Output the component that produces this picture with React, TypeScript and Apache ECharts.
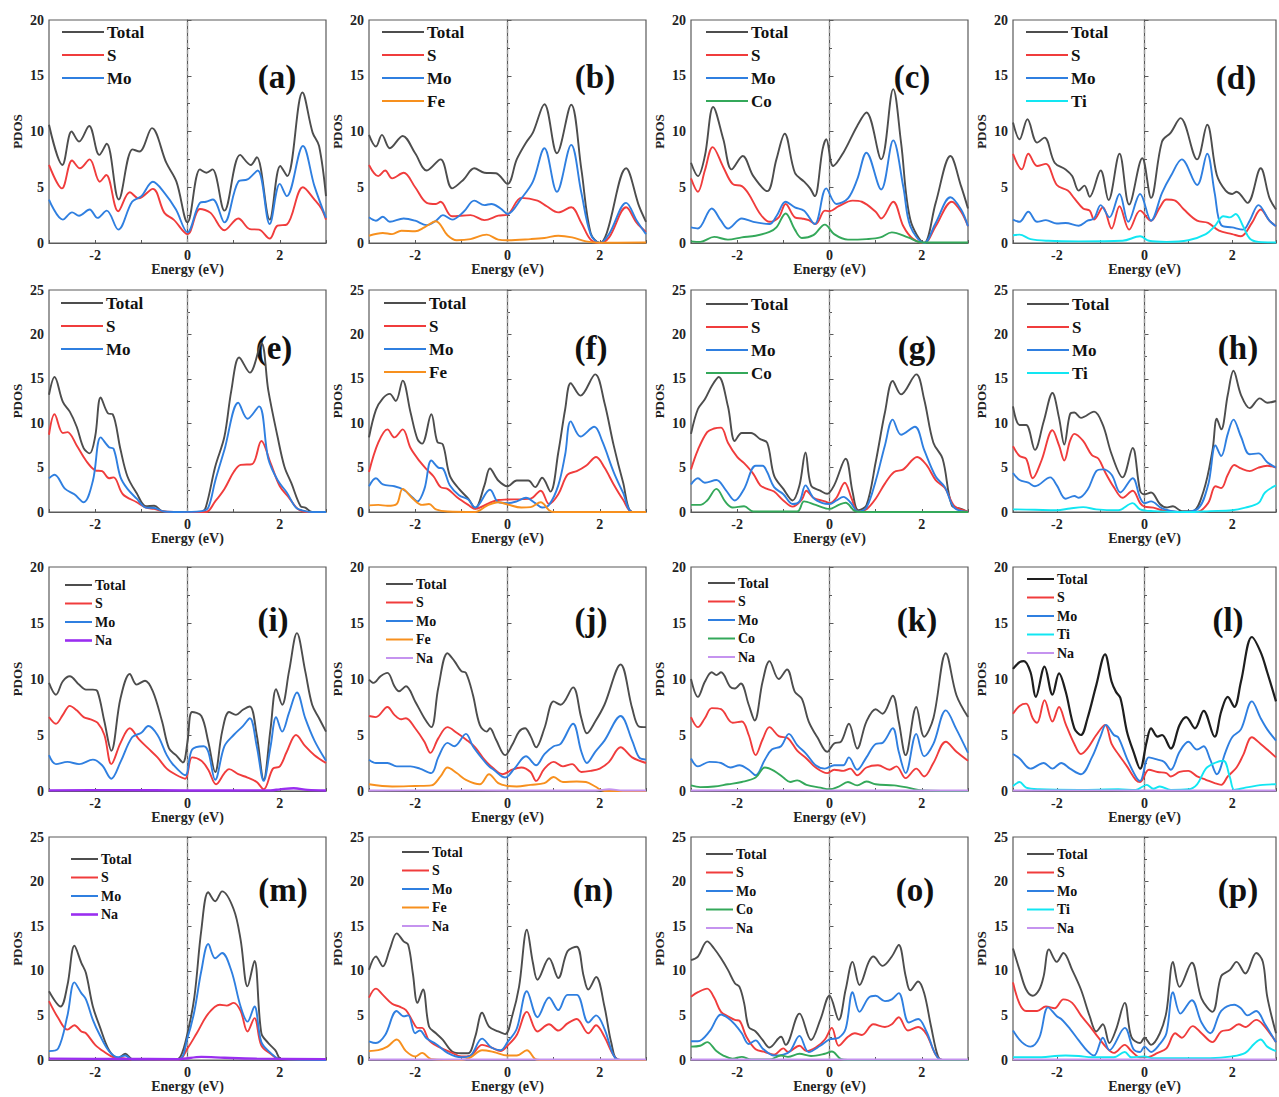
import React, { useEffect, useRef } from "react";
import * as echarts from "echarts";

type P = [number, number][];

// ---------- tick values ----------
const energyTicks = [-3, -2, -1, 0, 1, 2, 3];
const yMaxByRow = [20, 25, 20, 25];
const fermiLevel = 0;

// ---------- (a) MoS2 ----------
const aTot: P = [[-3,10.6],[-2.71,7.0],[-2.51,10.0],[-2.35,9.1],[-2.13,10.5],[-1.91,7.9],[-1.75,8.9],[-1.49,3.9],[-1.19,8.4],[-1.04,8.2],[-0.77,10.3],[-0.46,7.2],[-0.24,5.5],[0,1.85],[0.27,6.6],[0.41,6.3],[0.54,6.6],[0.8,2.9],[1.14,7.9],[1.37,7.0],[1.5,7.7],[1.78,2.1],[2.01,6.9],[2.16,6.0],[2.49,13.5],[2.71,9.9],[2.85,8.7],[3,4.2]];
const aS: P = [[-3,7.0],[-2.72,4.9],[-2.5,7.4],[-2.33,6.7],[-2.12,7.5],[-1.9,5.5],[-1.76,6.1],[-1.5,2.85],[-1.25,4.55],[-1.06,4.0],[-0.75,4.85],[-0.5,2.7],[-0.3,2.1],[0,0.8],[0.27,3.05],[0.5,2.7],[0.8,1.15],[1.1,2.2],[1.35,1.25],[1.55,1.2],[1.78,0.4],[1.95,1.55],[2.15,1.65],[2.5,5.0],[2.75,3.9],[2.9,3.1],[3,2.1]];
const aMo: P = [[-3,3.9],[-2.7,2.1],[-2.5,2.75],[-2.35,2.45],[-2.12,3.0],[-1.95,2.25],[-1.75,2.9],[-1.5,1.2],[-1.2,3.7],[-1.0,4.2],[-0.75,5.5],[-0.5,4.5],[-0.25,3.0],[0,0.95],[0.27,3.6],[0.4,3.7],[0.55,3.9],[0.8,1.85],[1.1,5.5],[1.3,5.7],[1.52,6.5],[1.78,1.7],[2.0,5.3],[2.15,4.2],[2.5,8.7],[2.75,5.1],[3,2.25]];

// ---------- (b) Fe-MoS2 ----------
const bTot: P = [[-3,9.7],[-2.85,8.65],[-2.72,9.7],[-2.55,8.5],[-2.27,9.6],[-2.0,8.05],[-1.75,6.5],[-1.45,7.5],[-1.2,4.9],[-0.95,5.7],[-0.72,6.7],[-0.5,6.3],[-0.25,6.25],[0,5.3],[0.2,7.5],[0.4,9.0],[0.55,9.9],[0.8,12.45],[1.07,8.05],[1.38,12.4],[1.6,6.6],[1.8,0.9],[2.0,0],[2.15,0.9],[2.57,6.7],[2.85,3.3],[3,1.9]];
const bS: P = [[-3,7.0],[-2.8,6.0],[-2.65,6.5],[-2.5,5.8],[-2.25,6.3],[-2.0,5.0],[-1.75,3.6],[-1.55,3.5],[-1.45,3.7],[-1.2,2.4],[-0.8,2.5],[-0.5,2.05],[-0.2,2.45],[0,2.55],[0.3,4.05],[0.65,3.8],[0.85,3.3],[1.1,2.75],[1.38,3.2],[1.6,1.8],[1.8,0.3],[2.0,0],[2.2,0.5],[2.57,3.2],[2.8,1.8],[3,1.0]];
const bMo: P = [[-3,2.3],[-2.85,2.0],[-2.7,2.35],[-2.55,1.9],[-2.25,2.2],[-2.0,2.0],[-1.75,1.6],[-1.55,2.0],[-1.4,2.5],[-1.2,2.1],[-0.95,2.8],[-0.72,3.8],[-0.5,3.4],[-0.35,3.5],[-0.15,3.1],[0,2.6],[0.3,4.0],[0.55,5.5],[0.8,8.5],[1.07,4.6],[1.38,8.8],[1.6,4.5],[1.8,0.8],[2.0,0],[2.2,0.8],[2.57,3.6],[2.8,2.0],[3,0.8]];
const bFe: P = [[-3,0.65],[-2.7,0.9],[-2.5,0.8],[-2.3,1.1],[-2.0,1.05],[-1.8,1.4],[-1.55,1.95],[-1.3,0.7],[-1.1,0.25],[-0.8,0.35],[-0.45,0.75],[-0.2,0.3],[0,0.25],[0.5,0.35],[0.8,0.45],[1.1,0.65],[1.4,0.5],[1.7,0.15],[2.0,0.02],[3,0.05]];

// ---------- (c) Co-MoS2 ----------
const cTot: P = [[-3,7.2],[-2.85,6.0],[-2.7,7.8],[-2.52,12.2],[-2.3,9.3],[-2.12,6.6],[-1.88,7.8],[-1.65,6.0],[-1.35,4.65],[-1.15,7.5],[-0.97,9.8],[-0.75,6.3],[-0.55,5.5],[-0.42,4.9],[-0.32,4.2],[-0.15,8.4],[-0.07,9.3],[0.08,6.9],[0.3,8.1],[0.6,10.5],[0.8,11.7],[1.12,7.5],[1.38,13.8],[1.55,9.0],[1.75,2.1],[2.05,0],[2.3,3.6],[2.62,7.8],[2.85,5.1],[3,3.1]];
const cS: P = [[-3,5.8],[-2.85,4.6],[-2.7,6.5],[-2.53,8.6],[-2.3,6.8],[-2.1,5.3],[-1.9,5.1],[-1.75,4.4],[-1.5,2.6],[-1.3,1.9],[-1.1,2.3],[-0.95,3.5],[-0.75,2.3],[-0.6,2.2],[-0.45,2.05],[-0.3,1.7],[-0.1,2.9],[0,2.85],[0.2,3.3],[0.5,3.8],[0.7,3.7],[1.0,2.8],[1.12,2.2],[1.38,3.7],[1.6,1.5],[1.8,0.4],[2.05,0],[2.3,1.5],[2.65,3.7],[2.85,2.8],[3,1.5]];
const cMo: P = [[-3,1.4],[-2.85,1.3],[-2.55,3.1],[-2.35,2.0],[-2.2,1.3],[-1.9,2.2],[-1.65,1.9],[-1.3,1.7],[-1.15,2.4],[-0.95,3.7],[-0.75,3.2],[-0.55,2.9],[-0.32,1.7],[-0.07,4.9],[0.15,3.5],[0.4,4.0],[0.6,5.7],[0.8,8.1],[1.12,4.8],[1.38,9.2],[1.6,5.0],[1.75,1.5],[2.05,0],[2.3,1.8],[2.62,4.1],[2.85,3.0],[3,1.5]];
const cCo: P = [[-3,0.15],[-2.8,0.1],[-2.5,0.55],[-2.2,0.3],[-1.9,0.5],[-1.6,0.65],[-1.3,1.0],[-1.15,1.4],[-0.95,2.65],[-0.75,1.2],[-0.6,0.45],[-0.35,0.7],[-0.1,1.65],[0.1,0.8],[0.4,0.3],[0.8,0.35],[1.1,0.5],[1.35,0.95],[1.7,0.5],[2.0,0.05],[3,0.05]];

// ---------- (d) Ti-MoS2 ----------
const dTot: P = [[-3,10.8],[-2.85,9.3],[-2.67,11.1],[-2.45,9.0],[-2.28,9.45],[-2.05,7.2],[-1.8,6.6],[-1.65,6.0],[-1.5,4.7],[-1.37,5.15],[-1.25,4.15],[-1.0,6.5],[-0.82,3.85],[-0.57,8.0],[-0.35,3.45],[-0.05,7.6],[0.15,4.05],[0.4,9.1],[0.6,9.9],[0.82,11.2],[1.2,7.5],[1.43,10.6],[1.65,6.1],[1.85,4.7],[2.0,4.4],[2.1,4.6],[2.35,3.6],[2.65,6.7],[2.85,4.05],[3,3.0]];
const dS: P = [[-3,8.0],[-2.8,6.6],[-2.65,8.0],[-2.45,6.9],[-2.25,7.1],[-2.0,5.2],[-1.75,4.7],[-1.6,4.0],[-1.4,3.1],[-1.25,2.9],[-1.15,2.1],[-0.95,3.2],[-0.75,1.3],[-0.57,3.3],[-0.35,1.2],[-0.1,2.9],[0.15,2.0],[0.35,3.2],[0.5,3.9],[0.7,3.8],[0.9,3.0],[1.2,2.0],[1.45,1.8],[1.7,1.1],[2.0,0.8],[2.2,0.6],[2.45,1.8],[2.65,3.0],[2.85,2.0],[3,1.5]];
const dMo: P = [[-3,2.1],[-2.85,1.9],[-2.65,2.8],[-2.45,1.9],[-2.25,2.05],[-2.0,1.75],[-1.8,1.8],[-1.5,1.55],[-1.3,2.0],[-1.15,2.2],[-1.0,3.4],[-0.8,2.3],[-0.57,4.4],[-0.37,1.9],[-0.1,4.4],[0.15,2.0],[0.4,4.5],[0.6,6.0],[0.85,7.5],[1.2,5.2],[1.43,8.0],[1.6,4.5],[1.75,1.6],[2.0,1.4],[2.25,1.2],[2.4,2.0],[2.6,3.4],[2.85,2.0],[3,1.5]];
const dTi: P = [[-3,0.7],[-2.85,0.75],[-2.6,0.35],[-2.2,0.2],[-1.5,0.15],[-0.5,0.2],[-0.1,0.6],[0.1,0.2],[0.5,0.1],[1.0,0.25],[1.4,0.8],[1.6,1.5],[1.8,2.4],[1.95,2.3],[2.08,2.6],[2.25,1.5],[2.4,0.4],[2.6,0.1],[3,0.05]];

// ---------- (e) ----------
const eTot: P = [[-3,13.2],[-2.88,15.2],[-2.7,12.4],[-2.55,11.3],[-2.4,9.6],[-2.25,7.2],[-2.12,6.6],[-2.0,8.5],[-1.88,12.9],[-1.72,11.1],[-1.62,11.0],[-1.45,7.0],[-1.3,4.0],[-1.1,2.1],[-0.9,0.65],[-0.72,0.7],[-0.55,0.1],[-0.3,0],[0.3,0],[0.4,0.6],[0.6,5.1],[0.8,8.5],[0.95,13.7],[1.12,17.4],[1.35,15.7],[1.6,19.0],[1.75,13.7],[1.95,8.5],[2.1,5.1],[2.25,3.25],[2.45,0.65],[2.55,0.5],[2.7,0],[3,0]];
const eS: P = [[-3,8.7],[-2.88,11.0],[-2.7,8.9],[-2.6,9.0],[-2.4,7.5],[-2.2,5.8],[-2.0,4.7],[-1.85,4.6],[-1.7,3.8],[-1.6,3.9],[-1.4,2.0],[-1.1,1.1],[-0.9,0.5],[-0.72,0.35],[-0.5,0.05],[-0.2,0],[0.4,0],[0.6,1.2],[0.8,2.6],[1.0,4.5],[1.15,5.3],[1.4,5.4],[1.6,8.0],[1.8,5.5],[2.0,2.9],[2.2,1.6],[2.4,0.3],[2.6,0],[3,0]];
const eMo: P = [[-3,3.8],[-2.88,4.2],[-2.65,2.6],[-2.45,2.0],[-2.25,1.1],[-2.05,3.5],[-1.88,8.4],[-1.7,7.3],[-1.6,7.1],[-1.45,3.9],[-1.3,2.6],[-1.1,1.5],[-0.9,0.5],[-0.72,0.45],[-0.5,0.05],[-0.2,0],[0.3,0.1],[0.45,0.5],[0.6,3.5],[0.8,7.0],[1.1,12.3],[1.3,10.5],[1.55,11.9],[1.75,6.0],[1.95,3.6],[2.15,2.2],[2.35,0.5],[2.55,0.1],[2.7,0],[3,0]];

// ---------- (f) ----------
const fTot: P = [[-3,8.4],[-2.85,11.5],[-2.7,12.8],[-2.55,13.3],[-2.42,12.5],[-2.27,14.8],[-2.1,11.2],[-1.95,8.2],[-1.85,7.7],[-1.65,11.0],[-1.52,7.9],[-1.4,7.6],[-1.25,4.1],[-1.05,2.6],[-0.85,1.5],[-0.7,0.4],[-0.5,3.0],[-0.38,4.9],[-0.2,3.55],[0,2.9],[0.2,3.55],[0.45,3.55],[0.6,2.8],[0.75,3.85],[0.93,2.3],[1.1,6.7],[1.25,11.6],[1.37,14.5],[1.58,13.1],[1.9,15.5],[2.1,12.3],[2.3,7.5],[2.5,3.4],[2.7,0],[3,0]];
const fS: P = [[-3,4.5],[-2.8,7.8],[-2.6,9.3],[-2.45,8.4],[-2.27,9.3],[-2.1,7.2],[-1.9,5.7],[-1.75,4.8],[-1.6,4.0],[-1.45,2.8],[-1.3,2.6],[-1.1,1.7],[-0.85,0.8],[-0.7,0.35],[-0.4,1.0],[-0.2,1.35],[0,1.4],[0.3,1.45],[0.5,1.5],[0.72,2.4],[0.9,0.9],[1.1,2.0],[1.3,4.2],[1.5,4.6],[1.7,5.2],[1.92,6.2],[2.1,5.0],[2.3,3.1],[2.5,1.4],[2.7,0],[3,0]];
const fMo: P = [[-3,2.9],[-2.85,3.8],[-2.7,3.1],[-2.45,2.9],[-2.25,2.5],[-2.05,1.6],[-1.95,1.2],[-1.8,2.6],[-1.65,5.8],[-1.5,5.0],[-1.4,4.9],[-1.25,3.0],[-1.05,1.9],[-0.85,1.4],[-0.7,0.5],[-0.38,2.5],[-0.2,1.1],[0,1.0],[0.2,1.2],[0.4,1.6],[0.6,1.0],[0.75,0.5],[0.9,0.8],[1.1,3.0],[1.25,6.5],[1.37,10.2],[1.58,8.5],[1.88,9.6],[2.05,8.0],[2.3,4.5],[2.5,2.2],[2.7,0],[3,0]];
const fFe: P = [[-3,0.75],[-2.8,0.8],[-2.6,0.7],[-2.4,0.9],[-2.27,2.6],[-2.05,1.5],[-1.85,0.8],[-1.7,0.9],[-1.55,0.3],[-1.3,0.05],[-0.7,0],[-0.45,0.7],[-0.2,1.1],[0,0.85],[0.3,0.5],[0.5,0.55],[0.72,1.1],[0.9,0.2],[1.0,0],[3,0]];

// ---------- (g) ----------
const gTot: P = [[-3,8.8],[-2.85,11.6],[-2.7,12.7],[-2.55,14.2],[-2.4,15.2],[-2.2,11.9],[-2.05,8.0],[-1.9,8.9],[-1.7,8.9],[-1.5,8.2],[-1.35,7.8],[-1.2,4.1],[-1.0,2.6],[-0.8,1.3],[-0.65,3.0],[-0.52,6.7],[-0.4,3.0],[-0.2,2.4],[-0.05,2.05],[0.1,3.0],[0.35,6.0],[0.5,2.25],[0.62,0.2],[0.8,0.75],[1.0,5.6],[1.2,11.2],[1.37,14.75],[1.55,13.25],[1.88,15.5],[2.05,12.7],[2.25,7.8],[2.45,6.0],[2.65,0.75],[2.85,0.35],[3,0]];
const gS: P = [[-3,4.8],[-2.85,7.0],[-2.65,9.0],[-2.5,9.4],[-2.35,9.5],[-2.2,7.8],[-2.0,6.2],[-1.85,5.5],[-1.65,4.3],[-1.5,3.0],[-1.35,2.6],[-1.2,2.3],[-1.0,1.3],[-0.8,0.6],[-0.6,1.4],[-0.5,2.4],[-0.35,1.6],[-0.1,1.2],[0,1.0],[0.15,1.6],[0.33,3.3],[0.48,1.5],[0.62,0],[0.8,0.3],[1.0,1.5],[1.2,3.2],[1.4,4.5],[1.6,4.8],[1.9,6.2],[2.1,5.3],[2.3,3.6],[2.5,2.7],[2.7,0.7],[2.9,0.2],[3,0]];
const gMo: P = [[-3,3.1],[-2.85,3.8],[-2.7,3.3],[-2.45,3.6],[-2.25,2.5],[-2.05,1.3],[-1.85,2.6],[-1.6,5.2],[-1.45,5.2],[-1.35,4.5],[-1.2,2.8],[-1.0,2.0],[-0.8,0.9],[-0.65,1.2],[-0.52,3.0],[-0.35,1.6],[-0.15,1.0],[0,0.9],[0.15,1.3],[0.3,1.7],[0.45,1.1],[0.62,0.05],[0.8,0.5],[1.0,3.5],[1.2,7.5],[1.37,10.4],[1.55,8.7],[1.85,9.6],[2.05,7.0],[2.3,4.0],[2.5,2.8],[2.7,0.5],[3,0]];
const gCo: P = [[-3,0.8],[-2.8,0.8],[-2.65,1.3],[-2.45,2.6],[-2.25,1.1],[-2.1,0.5],[-1.85,0.65],[-1.65,0.05],[-0.7,0.05],[-0.55,1.2],[-0.3,0.8],[0,0.35],[0.2,0.8],[0.35,1.05],[0.55,0.1],[0.7,0],[3,0]];

// ---------- (h) ----------
const hTot: P = [[-3,11.9],[-2.85,9.8],[-2.7,9.8],[-2.5,7.0],[-2.3,10.2],[-2.1,13.4],[-1.95,10.6],[-1.83,7.6],[-1.7,11.0],[-1.6,11.2],[-1.45,10.6],[-1.15,11.3],[-0.95,9.8],[-0.75,6.5],[-0.5,3.9],[-0.27,7.2],[-0.1,2.4],[0,2.0],[0.15,2.2],[0.35,0.9],[0.5,0.5],[0.65,0.65],[0.85,0.1],[1.1,0.1],[1.35,2.4],[1.55,6.9],[1.65,10.5],[1.75,9.3],[1.9,13.2],[2.03,15.9],[2.2,13.2],[2.4,11.7],[2.63,12.8],[2.8,12.3],[3,12.5]];
const hS: P = [[-3,7.4],[-2.85,6.3],[-2.7,6.0],[-2.55,3.8],[-2.35,5.8],[-2.1,9.2],[-1.95,7.5],[-1.83,5.8],[-1.7,8.0],[-1.6,8.8],[-1.4,8.0],[-1.2,6.4],[-1.05,6.0],[-0.9,4.5],[-0.7,2.8],[-0.5,1.6],[-0.27,2.4],[-0.1,1.0],[0,0.6],[0.2,0.5],[0.4,0.2],[0.8,0],[1.2,0],[1.45,1.0],[1.62,2.9],[1.75,2.7],[1.9,4.2],[2.05,5.3],[2.2,4.9],[2.4,4.6],[2.6,5.0],[2.8,5.2],[3,5.0]];
const hMo: P = [[-3,4.4],[-2.85,3.6],[-2.65,3.3],[-2.5,2.9],[-2.15,3.9],[-2.0,3.0],[-1.8,1.5],[-1.6,1.8],[-1.5,1.6],[-1.3,2.5],[-1.1,4.6],[-0.95,4.8],[-0.75,4.2],[-0.55,2.2],[-0.27,3.8],[-0.1,1.6],[0,1.0],[0.15,1.2],[0.4,0.4],[0.8,0],[1.2,0.3],[1.45,3.0],[1.62,7.5],[1.75,6.3],[1.9,8.8],[2.03,10.4],[2.2,8.5],[2.4,6.5],[2.6,6.6],[2.8,5.6],[3,5.0]];
const hTi: P = [[-3,0.3],[-2.5,0.25],[-2.0,0.2],[-1.7,0.4],[-1.4,0.55],[-1.1,0.3],[-0.6,0.2],[-0.27,1.0],[-0.1,0.3],[0.2,0.1],[1.0,0],[1.5,0.1],[2.0,0.2],[2.3,0.5],[2.6,1.0],[2.75,2.2],[3,3.0]];

// ---------- (i) Na-MoS2 ----------
const iTot: P = [[-3,9.65],[-2.85,8.6],[-2.7,9.8],[-2.55,10.25],[-2.35,9.5],[-2.2,9.05],[-2.05,9.05],[-1.95,8.9],[-1.8,6.2],[-1.65,3.6],[-1.45,8.3],[-1.25,10.45],[-1.1,9.5],[-0.92,9.85],[-0.75,8.9],[-0.55,6.2],[-0.4,3.8],[-0.25,3.2],[-0.1,2.55],[0,4.4],[0.1,7.05],[0.3,6.7],[0.45,4.4],[0.6,1.7],[0.75,5.3],[0.9,7.05],[1.05,6.8],[1.2,7.25],[1.35,7.55],[1.5,5.0],[1.65,1.0],[1.8,5.6],[1.92,9.1],[2.05,7.7],[2.2,10.7],[2.37,14.1],[2.55,10.7],[2.7,7.7],[2.85,6.5],[3,5.3]];
const iS: P = [[-3,6.6],[-2.85,6.0],[-2.7,6.8],[-2.55,7.6],[-2.4,7.2],[-2.25,6.6],[-2.1,6.4],[-1.95,6.1],[-1.8,5.0],[-1.65,2.4],[-1.45,4.3],[-1.25,5.6],[-1.05,4.6],[-0.85,3.8],[-0.65,3.0],[-0.45,2.0],[-0.25,1.45],[-0.05,1.1],[0.1,3.0],[0.3,2.7],[0.45,1.9],[0.62,0.6],[0.8,1.6],[0.9,1.95],[1.1,1.5],[1.3,1.2],[1.5,0.8],[1.65,0.15],[1.85,2.0],[2.0,2.2],[2.15,3.5],[2.35,5.0],[2.55,4.0],[2.75,3.2],[3,2.5]];
const iMo: P = [[-3,3.2],[-2.85,2.4],[-2.6,2.6],[-2.35,2.4],[-2.05,2.8],[-1.85,2.3],[-1.65,1.1],[-1.45,2.6],[-1.2,4.8],[-1.0,5.2],[-0.85,5.8],[-0.65,5.0],[-0.45,3.2],[-0.3,2.3],[-0.05,1.4],[0.1,3.7],[0.35,4.0],[0.45,3.5],[0.6,1.0],[0.8,4.0],[1.0,5.0],[1.2,5.8],[1.35,6.5],[1.5,4.0],[1.65,0.9],[1.8,4.0],[1.92,6.6],[2.05,5.3],[2.2,7.0],[2.37,8.8],[2.55,6.5],[2.75,4.5],[3,2.7]];
const iNa: P = [[-3,0.06],[-1.5,0.08],[0,0.05],[1.8,0.06],[2.0,0.15],[2.3,0.25],[2.6,0.1],[3,0.05]];

// ---------- (j) ----------
const jTot: P = [[-3,9.95],[-2.9,9.65],[-2.75,10.25],[-2.6,10.55],[-2.45,9.35],[-2.35,8.9],[-2.2,9.35],[-2.0,8.0],[-1.8,6.5],[-1.65,5.7],[-1.5,9.2],[-1.3,12.3],[-1.15,11.6],[-1.0,10.7],[-0.9,10.55],[-0.75,8.6],[-0.6,5.9],[-0.45,5.3],[-0.38,5.6],[-0.25,4.6],[-0.05,3.2],[0.1,4.1],[0.25,5.3],[0.38,5.6],[0.5,4.9],[0.62,3.9],[0.8,5.6],[1.0,8.0],[1.15,7.7],[1.42,9.25],[1.6,6.5],[1.72,5.15],[1.9,6.2],[2.1,7.7],[2.45,11.3],[2.7,7.4],[2.85,5.75],[3,5.7]];
const jS: P = [[-3,6.7],[-2.85,6.6],[-2.6,7.5],[-2.45,6.8],[-2.3,6.4],[-2.2,6.5],[-2.0,5.6],[-1.8,4.4],[-1.67,3.4],[-1.5,4.7],[-1.3,5.7],[-1.1,5.2],[-0.9,4.6],[-0.7,3.9],[-0.5,2.8],[-0.3,2.0],[-0.1,1.5],[0.1,1.9],[0.3,2.1],[0.5,1.7],[0.62,0.9],[0.8,2.0],[1.0,2.6],[1.2,2.2],[1.4,2.4],[1.6,1.7],[1.8,1.8],[2.0,2.0],[2.2,2.6],[2.45,3.9],[2.7,3.0],[3,2.5]];
const jMo: P = [[-3,2.8],[-2.85,2.5],[-2.6,2.5],[-2.4,2.2],[-2.1,2.2],[-1.9,2.0],[-1.65,1.6],[-1.5,3.0],[-1.3,4.3],[-1.15,4.0],[-0.9,5.1],[-0.75,4.0],[-0.55,2.9],[-0.4,2.2],[-0.3,1.9],[-0.05,1.2],[0.15,2.0],[0.4,3.1],[0.62,2.3],[0.8,3.3],[1.0,4.0],[1.15,4.2],[1.42,6.0],[1.6,3.5],[1.72,2.5],[1.9,3.5],[2.1,4.5],[2.45,6.7],[2.7,4.5],[2.85,3.0],[3,2.8]];
const jFe: P = [[-3,0.6],[-2.5,0.4],[-2.0,0.45],[-1.65,0.5],[-1.45,1.3],[-1.3,2.1],[-1.1,1.6],[-0.9,1.0],[-0.6,0.6],[-0.4,1.5],[-0.2,0.7],[0,0.45],[0.2,0.4],[0.5,0.55],[0.8,0.7],[1.0,1.25],[1.2,0.8],[1.5,0.85],[1.7,0.8],[1.9,0.4],[2.1,0],[3,0]];
const jNa: P = [[-3,0.05],[-1.5,0.06],[0,0.05],[1.9,0.05],[2.2,0.15],[2.5,0.05],[3,0.05]];

// ---------- (k) ----------
const kTot: P = [[-3,10.0],[-2.85,8.4],[-2.7,9.75],[-2.55,10.6],[-2.45,10.35],[-2.35,10.6],[-2.15,9.3],[-2.05,9.15],[-1.92,9.6],[-1.75,7.7],[-1.62,6.3],[-1.45,9.75],[-1.3,11.6],[-1.1,10.0],[-0.92,10.85],[-0.75,8.85],[-0.6,8.25],[-0.45,6.2],[-0.25,4.7],[-0.05,3.5],[0.1,4.25],[0.25,4.4],[0.42,6.0],[0.6,3.8],[0.8,6.2],[1.0,7.3],[1.15,6.9],[1.37,8.5],[1.5,6.2],[1.65,3.2],[1.88,7.5],[2.05,4.85],[2.25,6.5],[2.52,12.3],[2.75,8.55],[3,6.6]];
const kS: P = [[-3,6.6],[-2.85,5.7],[-2.7,6.5],[-2.55,7.4],[-2.35,7.3],[-2.1,6.1],[-1.9,6.2],[-1.75,5.0],[-1.6,3.2],[-1.45,4.6],[-1.3,5.7],[-1.1,4.9],[-0.9,4.7],[-0.7,3.6],[-0.5,2.9],[-0.3,2.1],[-0.05,1.6],[0.1,1.9],[0.3,1.8],[0.45,2.0],[0.6,1.4],[0.8,2.1],[1.05,2.3],[1.3,1.9],[1.45,2.2],[1.65,1.15],[1.88,2.0],[2.05,1.3],[2.25,2.5],[2.52,4.4],[2.75,3.5],[3,2.7]];
const kMo: P = [[-3,2.9],[-2.85,2.2],[-2.6,2.6],[-2.35,2.5],[-2.15,2.1],[-1.95,2.3],[-1.75,1.9],[-1.6,1.4],[-1.4,2.8],[-1.25,3.7],[-1.05,4.0],[-0.88,5.1],[-0.7,4.1],[-0.5,3.3],[-0.3,2.3],[-0.1,2.0],[0.1,2.3],[0.3,2.3],[0.42,3.0],[0.6,1.9],[0.8,3.0],[1.0,4.2],[1.15,4.3],[1.37,5.6],[1.5,3.5],[1.65,1.6],[1.88,5.1],[2.05,3.1],[2.25,4.2],[2.52,7.2],[2.75,5.5],[3,3.4]];
const kCo: P = [[-3,0.5],[-2.8,0.35],[-2.5,0.4],[-2.2,0.6],[-1.9,0.8],[-1.6,1.2],[-1.4,2.1],[-1.2,1.8],[-1.0,1.2],[-0.85,0.8],[-0.7,0.95],[-0.5,0.55],[-0.2,0.3],[0,0.15],[0.2,0.4],[0.4,0.8],[0.6,0.5],[0.8,0.85],[1.0,0.6],[1.4,0.5],[1.7,0.3],[2.0,0.05],[3,0]];
const kNa: P = [[-3,0.05],[-1.5,0.07],[0,0.05],[1.5,0.05],[3,0.05]];

// ---------- (l) ----------
const lTot: P = [[-3,10.9],[-2.85,11.5],[-2.75,11.6],[-2.6,10.6],[-2.48,8.4],[-2.28,11.1],[-2.1,8.6],[-1.95,10.5],[-1.8,8.9],[-1.6,5.6],[-1.45,5.0],[-1.3,6.5],[-1.1,9.45],[-0.9,12.2],[-0.75,9.75],[-0.65,8.85],[-0.55,8.3],[-0.4,5.3],[-0.25,3.5],[-0.1,2.0],[0.05,4.4],[0.15,5.6],[0.3,4.85],[0.4,5.0],[0.6,3.8],[0.8,5.9],[0.95,6.6],[1.15,5.6],[1.35,7.15],[1.6,4.85],[1.75,7.1],[1.9,8.4],[2.05,7.5],[2.2,9.75],[2.45,13.75],[2.65,12.4],[2.8,10.6],[3,8.0]];
const lS: P = [[-3,6.9],[-2.85,7.6],[-2.7,7.8],[-2.55,6.5],[-2.45,6.1],[-2.28,8.1],[-2.1,6.2],[-1.95,7.5],[-1.8,6.0],[-1.6,4.2],[-1.45,3.3],[-1.3,3.8],[-1.1,5.0],[-0.9,5.9],[-0.75,4.2],[-0.6,3.3],[-0.4,2.2],[-0.2,1.0],[-0.1,0.8],[0.1,1.9],[0.3,1.7],[0.5,1.6],[0.6,1.3],[0.8,1.7],[1.0,1.8],[1.2,1.3],[1.4,1.0],[1.6,0.7],[1.75,0.55],[1.9,1.3],[2.1,2.1],[2.25,3.2],[2.45,4.8],[2.65,4.2],[2.8,3.7],[3,3.0]];
const lMo: P = [[-3,3.3],[-2.85,2.9],[-2.6,2.0],[-2.3,2.5],[-2.1,2.0],[-1.9,2.5],[-1.7,2.0],[-1.45,1.5],[-1.2,3.0],[-1.0,4.9],[-0.88,5.9],[-0.7,5.0],[-0.6,4.8],[-0.4,2.9],[-0.2,1.3],[-0.1,0.9],[0.1,3.0],[0.3,2.8],[0.45,2.6],[0.6,1.9],[0.8,3.5],[1.0,4.4],[1.2,3.7],[1.35,4.0],[1.5,2.8],[1.65,1.5],[1.85,3.5],[2.0,4.8],[2.2,5.5],[2.45,8.0],[2.65,6.5],[2.8,5.5],[3,4.5]];
const lTi: P = [[-3,0.45],[-2.85,0.8],[-2.7,0.3],[-2.4,0.15],[-1.5,0.1],[-0.6,0.15],[-0.2,0.1],[0.05,0.55],[0.2,0.2],[0.35,0.4],[0.6,0.1],[1.0,0.15],[1.2,0.6],[1.4,2.0],[1.6,2.5],[1.8,2.7],[1.95,1.2],[2.05,0.1],[2.3,0.3],[2.7,0.55],[3,0.6]];
const lNa: P = [[-3,0.05],[-1.5,0.06],[0,0.05],[1.5,0.05],[3,0.05]];

// ---------- (m) ----------
const mTot: P = [[-3,7.7],[-2.75,6.0],[-2.6,8.4],[-2.45,12.8],[-2.3,10.9],[-2.2,9.75],[-2.05,6.0],[-1.9,3.75],[-1.7,1.1],[-1.5,0.2],[-1.35,0.7],[-1.2,0.1],[-1.0,0],[-0.3,0],[-0.15,0.4],[0,3.0],[0.15,7.1],[0.3,14.6],[0.45,18.8],[0.6,17.8],[0.75,18.9],[1.0,16.9],[1.15,13.5],[1.3,8.25],[1.45,11.1],[1.6,3.0],[1.75,1.9],[1.9,1.1],[2.05,0],[3,0]];
const mS: P = [[-3,6.6],[-2.8,4.7],[-2.6,3.4],[-2.45,3.9],[-2.3,3.2],[-2.2,3.0],[-2.0,1.7],[-1.8,0.9],[-1.6,0.3],[-1.4,0.2],[-1.2,0.05],[-0.2,0],[0,1.3],[0.2,3.0],[0.45,5.2],[0.7,6.2],[0.85,6.1],[1.0,6.4],[1.15,5.5],[1.3,3.2],[1.45,4.7],[1.6,1.6],[1.8,0.7],[2.0,0.1],[3,0]];
const mMo: P = [[-3,1.0],[-2.8,1.3],[-2.6,5.0],[-2.45,8.7],[-2.3,7.5],[-2.2,6.8],[-2.05,4.5],[-1.9,2.8],[-1.7,1.0],[-1.5,0.3],[-1.35,0.5],[-1.2,0.05],[-0.2,0.05],[0,2.5],[0.15,5.5],[0.3,10.0],[0.45,13.0],[0.6,11.4],[0.75,12.0],[0.95,10.0],[1.15,6.0],[1.3,4.3],[1.45,6.0],[1.6,2.0],[1.8,0.8],[2.0,0.1],[3,0]];
const mNa: P = [[-3,0.15],[-1.5,0.12],[-0.2,0.1],[0.3,0.35],[0.8,0.25],[1.5,0.15],[3,0.1]];

// ---------- (n) ----------
const nTot: P = [[-3,10.1],[-2.85,11.6],[-2.7,10.5],[-2.55,12.4],[-2.4,14.2],[-2.25,13.3],[-2.15,12.9],[-2.05,9.7],[-1.95,6.4],[-1.83,7.9],[-1.7,3.75],[-1.55,3.0],[-1.4,2.25],[-1.2,0.95],[-1.0,0.75],[-0.85,0.75],[-0.7,2.6],[-0.55,5.3],[-0.4,3.75],[-0.2,3.2],[-0.05,2.9],[0.1,4.9],[0.25,8.2],[0.42,14.6],[0.55,10.9],[0.65,9.0],[0.9,11.4],[1.1,9.2],[1.3,12.2],[1.5,12.7],[1.65,9.4],[1.75,7.9],[1.92,9.3],[2.1,6.0],[2.25,1.9],[2.4,0],[3,0]];
const nS: P = [[-3,7.0],[-2.85,8.0],[-2.7,7.3],[-2.5,6.3],[-2.35,6.0],[-2.2,5.6],[-2.05,4.3],[-1.95,3.6],[-1.85,3.6],[-1.7,2.2],[-1.5,1.5],[-1.2,0.8],[-1.0,0.4],[-0.8,0.5],[-0.55,1.7],[-0.35,1.4],[-0.15,1.0],[0,1.6],[0.2,2.8],[0.42,5.4],[0.65,3.2],[0.9,4.0],[1.1,3.3],[1.3,4.1],[1.5,4.6],[1.75,3.0],[1.92,3.9],[2.1,2.6],[2.3,0.5],[2.45,0],[3,0]];
const nMo: P = [[-3,2.1],[-2.85,1.9],[-2.65,2.8],[-2.4,5.5],[-2.25,4.9],[-2.15,5.0],[-2.0,3.0],[-1.9,3.3],[-1.75,2.4],[-1.55,1.8],[-1.3,0.8],[-1.0,0.3],[-0.8,0.5],[-0.55,2.4],[-0.35,1.4],[-0.15,1.1],[0,2.0],[0.2,3.5],[0.42,7.7],[0.65,4.8],[0.9,7.0],[1.1,5.6],[1.3,7.3],[1.5,7.3],[1.75,4.2],[1.92,5.0],[2.1,3.5],[2.3,0.5],[2.45,0],[3,0]];
const nFe: P = [[-3,1.0],[-2.8,1.1],[-2.6,1.5],[-2.4,2.3],[-2.2,1.0],[-2.0,0.4],[-1.85,0.8],[-1.65,0.1],[-1.0,0],[-0.8,0.3],[-0.55,1.1],[-0.3,0.9],[0,0.5],[0.2,0.5],[0.42,1.1],[0.6,0.1],[0.7,0],[3,0]];
const nNa: P = [[-3,0.05],[-1.5,0.06],[0,0.05],[1.5,0.05],[3,0.05]];

// ---------- (o) ----------
const oTot: P = [[-3,11.2],[-2.85,11.6],[-2.65,13.3],[-2.5,12.5],[-2.35,11.4],[-2.2,10.1],[-2.05,8.6],[-1.95,8.2],[-1.85,6.4],[-1.75,3.7],[-1.6,3.2],[-1.45,2.25],[-1.3,1.4],[-1.05,2.6],[-0.95,1.7],[-0.65,5.2],[-0.4,2.25],[-0.2,4.5],[0,7.2],[0.2,4.5],[0.35,7.9],[0.5,11.0],[0.65,8.4],[0.85,11.0],[0.95,11.6],[1.15,10.55],[1.35,11.6],[1.5,12.9],[1.65,9.4],[1.75,7.8],[1.92,8.8],[2.05,7.5],[2.2,3.75],[2.35,0.4],[2.45,0],[3,0]];
const oS: P = [[-3,7.1],[-2.85,7.6],[-2.65,8.0],[-2.5,7.0],[-2.35,5.4],[-2.2,4.9],[-2.05,4.5],[-1.95,4.4],[-1.8,2.6],[-1.6,1.2],[-1.4,0.9],[-1.2,0.6],[-1.0,1.3],[-0.9,0.9],[-0.65,1.6],[-0.5,1.0],[-0.3,1.4],[-0.1,2.3],[0.05,3.6],[0.2,1.6],[0.4,2.6],[0.55,3.0],[0.7,2.8],[0.95,4.0],[1.2,3.7],[1.35,4.0],[1.5,4.8],[1.7,3.3],[1.92,3.7],[2.1,2.9],[2.3,0.6],[2.45,0],[3,0]];
const oMo: P = [[-3,2.1],[-2.85,2.1],[-2.6,3.2],[-2.35,5.1],[-2.2,4.7],[-2.05,4.0],[-1.9,3.0],[-1.75,1.8],[-1.6,2.2],[-1.45,1.3],[-1.2,0.5],[-1.0,0.6],[-0.85,1.0],[-0.65,2.7],[-0.45,0.9],[-0.2,1.6],[0,2.3],[0.2,2.5],[0.35,3.5],[0.5,7.6],[0.65,5.4],[0.85,7.0],[1.0,7.2],[1.2,6.6],[1.35,6.8],[1.5,7.5],[1.72,4.2],[1.92,4.6],[2.1,3.2],[2.3,0.6],[2.45,0],[3,0]];
const oCo: P = [[-3,1.5],[-2.8,1.6],[-2.65,2.0],[-2.45,1.0],[-2.3,0.5],[-2.1,0.15],[-1.9,0.35],[-1.7,0.05],[-1.3,0.05],[-1.05,0.5],[-0.9,0.35],[-0.65,0.7],[-0.4,0.45],[-0.1,0.7],[0.05,0.95],[0.25,0.1],[0.4,0],[3,0]];
const oNa: P = [[-3,0.05],[-1.5,0.06],[0,0.05],[1.5,0.05],[3,0.05]];

// ---------- (p) ----------
const pTot: P = [[-3,12.5],[-2.85,10.1],[-2.7,7.9],[-2.55,7.2],[-2.4,7.9],[-2.3,9.4],[-2.18,12.4],[-2.0,11.0],[-1.85,12.0],[-1.65,10.1],[-1.45,7.9],[-1.25,4.9],[-1.1,3.2],[-0.95,4.0],[-0.8,1.9],[-0.65,3.4],[-0.45,6.4],[-0.3,2.6],[-0.1,1.9],[0,2.5],[0.15,1.7],[0.35,3.0],[0.5,5.4],[0.65,11.0],[0.8,8.2],[1.08,10.9],[1.3,6.9],[1.55,5.4],[1.75,9.4],[1.95,10.1],[2.1,11.0],[2.3,9.7],[2.55,12.0],[2.7,11.0],[2.8,7.1],[3,3.0]];
const pS: P = [[-3,8.7],[-2.85,6.3],[-2.7,5.5],[-2.45,5.5],[-2.25,6.0],[-2.05,5.8],[-1.85,6.8],[-1.65,6.4],[-1.45,5.0],[-1.25,3.8],[-1.05,2.5],[-0.85,1.3],[-0.7,0.8],[-0.45,1.7],[-0.3,1.0],[-0.1,0.3],[0.1,0.35],[0.3,0.8],[0.5,1.3],[0.7,3.0],[0.85,2.5],[1.1,3.8],[1.3,3.0],[1.55,2.0],[1.75,3.2],[1.95,3.4],[2.15,4.0],[2.3,3.7],[2.55,4.5],[2.7,4.0],[3,2.0]];
const pMo: P = [[-3,3.3],[-2.8,2.0],[-2.6,1.5],[-2.4,2.5],[-2.2,5.9],[-2.0,4.9],[-1.9,4.6],[-1.7,3.5],[-1.5,2.2],[-1.3,1.0],[-1.15,0.5],[-0.95,2.5],[-0.8,1.1],[-0.45,3.6],[-0.25,1.2],[-0.1,0.9],[0,1.5],[0.15,0.9],[0.35,1.8],[0.5,3.0],[0.65,7.6],[0.82,5.2],[1.08,6.7],[1.3,4.2],[1.5,3.0],[1.75,5.5],[2.05,6.2],[2.2,5.8],[2.35,5.0],[2.55,5.5],[2.75,4.0],[3,2.0]];
const pTi: P = [[-3,0.3],[-2.5,0.3],[-1.8,0.5],[-1.5,0.45],[-1.2,0.3],[-0.7,0.3],[-0.45,0.9],[-0.3,0.3],[0,0.4],[0.2,0.2],[1.0,0.2],[1.5,0.2],[2.0,0.4],[2.3,0.8],[2.5,1.8],[2.65,2.3],[2.8,1.5],[3,1.0]];
const pNa: P = [[-3,0.05],[-1.5,0.06],[0,0.05],[1.5,0.05],[3,0.05]];

// ---------- panels ----------
const panelTags = ["(a)","(b)","(c)","(d)","(e)","(f)","(g)","(h)","(i)","(j)","(k)","(l)","(m)","(n)","(o)","(p)"];
const panelSeries: [string, P][][] = [
  [["Total", aTot], ["S", aS], ["Mo", aMo]],
  [["Total", bTot], ["S", bS], ["Mo", bMo], ["Fe", bFe]],
  [["Total", cTot], ["S", cS], ["Mo", cMo], ["Co", cCo]],
  [["Total", dTot], ["S", dS], ["Mo", dMo], ["Ti", dTi]],
  [["Total", eTot], ["S", eS], ["Mo", eMo]],
  [["Total", fTot], ["S", fS], ["Mo", fMo], ["Fe", fFe]],
  [["Total", gTot], ["S", gS], ["Mo", gMo], ["Co", gCo]],
  [["Total", hTot], ["S", hS], ["Mo", hMo], ["Ti", hTi]],
  [["Total", iTot], ["S", iS], ["Mo", iMo], ["Na", iNa]],
  [["Total", jTot], ["S", jS], ["Mo", jMo], ["Fe", jFe], ["Na", jNa]],
  [["Total", kTot], ["S", kS], ["Mo", kMo], ["Co", kCo], ["Na", kNa]],
  [["Total", lTot], ["S", lS], ["Mo", lMo], ["Ti", lTi], ["Na", lNa]],
  [["Total", mTot], ["S", mS], ["Mo", mMo], ["Na", mNa]],
  [["Total", nTot], ["S", nS], ["Mo", nMo], ["Fe", nFe], ["Na", nNa]],
  [["Total", oTot], ["S", oS], ["Mo", oMo], ["Co", oCo], ["Na", oNa]],
  [["Total", pTot], ["S", pS], ["Mo", pMo], ["Ti", pTi], ["Na", pNa]],
];

// ---------- styling / layout ----------
const COLORS: Record<string, string> = {
  Total: "#4d4d4d", S: "#f03c3c", Mo: "#2f7fe0", Fe: "#f7901e", Co: "#34a85a", Ti: "#12e6f2", Na: "#c593ef",
};
const darkNaPanels = [8, 12];
const darkTotalPanels = [11];
const FONT = "Liberation Serif";
const colLeft = [49, 369, 691, 1013];
const rowTop = [20, 290, 567, 837];
const rowH = [223, 222, 224, 223];
const plotW = 277;
const legendOffsets: [number, number][] = [
  [13, 12], [13, 12], [15, 12], [13, 12],
  [12, 13], [15, 13], [15, 14], [14, 14],
  [16, 18], [17, 17], [17, 16], [14, 12],
  [22, 22], [33, 15], [15, 17], [14, 17],
];
const legendRowStyle = [
  { font: 17, gap: 23, len: 42 },
  { font: 17, gap: 23, len: 42 },
  { font: 14, gap: 18.5, len: 27 },
  { font: 14, gap: 18.5, len: 27 },
];
const tagOffsets: [number, number][] = [
  [228, 57], [226, 57], [221, 57], [223, 58],
  [225, 58], [222, 58], [226, 58], [225, 58],
  [224, 53], [222, 53], [226, 53], [215, 53],
  [234, 53], [224, 53], [224, 53], [225, 53],
];

function buildOption() {
  const grid: any[] = [];
  const xAxis: any[] = [];
  const yAxis: any[] = [];
  const series: any[] = [];
  const graphic: any[] = [];

  panelSeries.forEach((lines, idx) => {
    const r = Math.floor(idx / 4);
    const c = idx % 4;
    const left = colLeft[c];
    const top = rowTop[r];
    grid.push({
      left, top, width: plotW, height: rowH[r],
      show: true, borderColor: "#5a5a5a", borderWidth: 1.2, backgroundColor: "transparent",
    });
    xAxis.push({
      type: "value", gridIndex: idx, min: energyTicks[0], max: energyTicks[energyTicks.length - 1], interval: 1,
      name: "Energy (eV)", nameLocation: "middle", nameGap: 19,
      nameTextStyle: { fontFamily: FONT, fontWeight: "bold", fontSize: 14, color: "#222" },
      axisLine: { show: true, onZero: false, lineStyle: { color: "#5a5a5a", width: 1.2 } },
      axisTick: { show: true, inside: true, length: 3, lineStyle: { color: "#5a5a5a" } },
      axisLabel: {
        margin: 5, fontFamily: FONT, fontWeight: "bold", fontSize: 14, color: "#222",
        formatter: (v: number) => (energyTicks.includes(v) && v % 2 === 0 ? String(v) : ""),
      },
      splitLine: { show: false },
    });
    yAxis.push({
      type: "value", gridIndex: idx, min: 0, max: yMaxByRow[r], interval: 5,
      name: "PDOS", nameLocation: "middle", nameGap: 25, nameRotate: 90,
      nameTextStyle: { fontFamily: FONT, fontWeight: "bold", fontSize: 13, color: "#222" },
      axisLine: { show: true, lineStyle: { color: "#5a5a5a", width: 1.2 } },
      axisTick: { show: true, inside: true, length: 4, lineStyle: { color: "#5a5a5a" } },
      minorTick: { show: true, splitNumber: 2, length: 2.5, lineStyle: { color: "#5a5a5a" } },
      axisLabel: { margin: 5, fontFamily: FONT, fontWeight: "bold", fontSize: 14, color: "#222" },
      splitLine: { show: false },
    });

    lines.forEach(([name, data], si) => {
      let color = COLORS[name];
      let width = 1.9;
      if (name === "Na" && darkNaPanels.includes(idx)) { color = "#9a2ef0"; width = 2.4; }
      if (name === "Total" && darkTotalPanels.includes(idx)) { color = "#1e1e1e"; width = 2.2; }
      series.push({
        type: "line", name, xAxisIndex: idx, yAxisIndex: idx, data,
        showSymbol: false, symbol: "none", smooth: 0.35, clip: true,
        lineStyle: { color, width }, itemStyle: { color }, z: 3 + si,
      });

      // legend entry
      const ls = legendRowStyle[r];
      const [lx, ly] = legendOffsets[idx];
      const y = top + ly + si * ls.gap;
      graphic.push({
        type: "line", silent: true,
        shape: { x1: left + lx, y1: y, x2: left + lx + ls.len, y2: y },
        style: { stroke: color, lineWidth: name === "Na" && darkNaPanels.includes(idx) ? 2.6 : 2 },
      });
      graphic.push({
        type: "text", silent: true,
        style: {
          text: name, x: left + lx + ls.len + 3, y, textVerticalAlign: "middle", verticalAlign: "middle",
          fontFamily: FONT, fontWeight: "bold", fontSize: ls.font, fill: "#111",
        },
      });
    });

    // dashed Fermi level line
    series.push({
      type: "line", name: "EF", xAxisIndex: idx, yAxisIndex: idx,
      data: [[fermiLevel, 0], [fermiLevel, yMaxByRow[r]]],
      showSymbol: false, symbol: "none", silent: true, z: 2,
      lineStyle: { color: "#9c9c9c", width: 1.3, type: [4, 3] },
    });

    const [tx, ty] = tagOffsets[idx];
    graphic.push({
      type: "text", silent: true,
      style: {
        text: panelTags[idx], x: left + tx, y: top + ty, align: "center", textAlign: "center",
        verticalAlign: "middle", textVerticalAlign: "middle",
        fontFamily: FONT, fontWeight: "bold", fontSize: 33, fill: "#111",
      },
    });
  });

  return {
    animation: false,
    backgroundColor: "#ffffff",
    grid, xAxis, yAxis, series, graphic,
  };
}

export default function App() {
  const ref = useRef<HTMLDivElement>(null);
  useEffect(() => {
    document.body.style.margin = "0";
    if (!ref.current) return;
    const chart = echarts.init(ref.current, undefined, { renderer: "svg" });
    chart.setOption(buildOption());
    return () => chart.dispose();
  }, []);
  return <div ref={ref} style={{ width: 1279, height: 1097, overflow: "hidden" }} />;
}
